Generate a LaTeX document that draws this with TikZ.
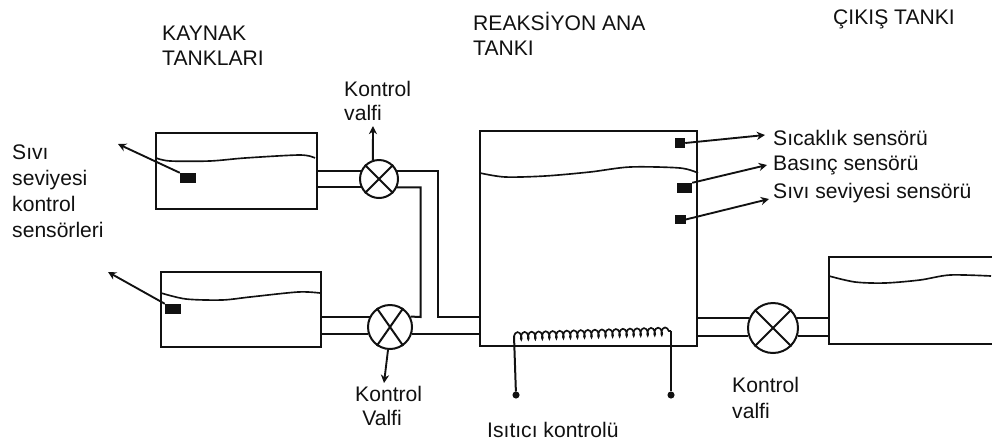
\documentclass[tikz,border=0pt]{standalone}
\usepackage{fontspec}
\setmainfont{Liberation Sans}
\usetikzlibrary{arrows.meta, decorations.pathmorphing}
\definecolor{Ink}{HTML}{111111}

\begin{document}
\begin{tikzpicture}[
            x=0.03cm,
            y=-0.03cm,
            tank/.style={
                rectangle,
                draw=Ink,
                line width=1.8pt,
                anchor=north west,
                inner sep=0pt
            },
            valve/.style={
                circle,
                draw=Ink,
                line width=1.7pt,
                inner sep=0pt
            },
            sensor/.style={
                rectangle,
                fill=Ink,
                inner sep=0pt
            },
            terminal/.style={
                circle,
                draw=Ink,
                fill=Ink,
                line width=1pt,
                minimum size=5pt,
                inner sep=0pt
            },
            pipe/.style={line width=1.7pt, color=Ink},
            level/.style={line width=1.4pt, color=Ink},
            arrow/.style={-{Stealth[length=7pt,width=7pt]}, line width=1.6pt, color=Ink},
            note/.style={
                anchor=north west,
                inner sep=0pt,
                align=left,
                text=Ink,
                font=\fontsize{18}{21.3}\selectfont
            }
        ]
            \useasboundingbox (0,0) rectangle (992,446);

            % Tanks
            \node[tank, minimum width=161*0.03cm, minimum height=76*0.03cm] (sourceA) at (155,132) {};
            \node[tank, minimum width=160*0.03cm, minimum height=75*0.03cm] (sourceB) at (160,271) {};
            \node[tank, minimum width=217*0.03cm, minimum height=215*0.03cm] (reactor) at (479,130) {};
            \node[tank, minimum width=163.5*0.03cm, minimum height=87*0.03cm] (outlet) at (828,256) {};

            % Valves
            \node[valve, minimum size=38*0.03cm] (valveA) at (379,179) {};
            \node[valve, minimum size=44*0.03cm] (valveB) at (390,327) {};
            \node[valve, minimum size=50*0.03cm] (valveC) at (773,328) {};
            \foreach \v/\a in {valveA/45, valveB/55, valveC/45} {
                \draw[pipe] (\v.\a) -- (\v.180+\a);
                \draw[pipe] (\v.180-\a) -- (\v.-\a);
            }

            % Sensors
            \node[sensor, minimum width=16*0.03cm, minimum height=10*0.03cm] (sensorA) at (188,178) {};
            \node[sensor, minimum width=16*0.03cm, minimum height=10*0.03cm] (sensorB) at (173,309) {};
            \node[sensor, minimum width=10*0.03cm, minimum height=10*0.03cm] (sensorTemp) at (680,143) {};
            \node[sensor, minimum width=15*0.03cm, minimum height=10*0.03cm] (sensorPres) at (684.5,188) {};
            \node[sensor, minimum width=11*0.03cm, minimum height=9*0.03cm] (sensorLevel) at (680,219.5) {};

            % Liquid levels
            \draw[level] plot[smooth] coordinates {(156,158) (170,161) (210,161) (245,158) (300,155) (315,158)};
            \draw[level] plot[smooth] coordinates {(161,293) (186,299) (222,300) (250,297) (298,292) (320,293)};
            \draw[level] plot[smooth] coordinates {(480,173) (505,177) (545,176) (590,172) (630,167) (680,168) (698,173)};
            \draw[level] plot[smooth] coordinates {(829,276) (855,282) (885,283) (920,280) (950,275) (991,276)};

            % Pipes
            \coordinate (jointA) at (438,317);
            \coordinate (jointB) at (420.5,317);
            \draw[pipe] (sourceA.east |- valveA.155) -- (valveA.155);
            \draw[pipe] (sourceA.east |- valveA.205) -- (valveA.205);
            \draw[pipe] (sourceB.east |- valveB.153) -- (valveB.153);
            \draw[pipe] (sourceB.east |- valveB.197) -- (valveB.197);
            \draw[pipe] (valveA.25) -| (jointA) -- (reactor.west |- jointA);
            \draw[pipe] (valveA.-25) -| (jointB) -- (valveB.27);
            \draw[pipe] (valveB.-18) -- (reactor.west |- valveB.-18);
            \draw[pipe] (reactor.east |- valveC.158) -- (valveC.158);
            \draw[pipe] (reactor.east |- valveC.199) -- (valveC.199);
            \draw[pipe] (valveC.22) -- (outlet.west |- valveC.22);
            \draw[pipe] (valveC.-19) -- (outlet.west |- valveC.-19);

            % Heater
            \node[terminal] (heatL) at (516,395) {};
            \node[terminal] (heatR) at (671,395) {};
            \coordinate (coilL) at (514,336);
            \coordinate (coilR) at (671,331);
            \draw[pipe] (heatL) -- (coilL);
            \draw[pipe] (heatR) -- (coilR);
            \draw[level, decorate, decoration={coil, aspect=0.5, segment length=6pt, amplitude=3.2pt}] (coilL) -- (coilR);

            % Labels
            \node[note] (titleSource) at (162,25.5) {KAYNAK\\TANKLARI};
            \node[note] (titleReactor) at (473,12) {REAKSİYON ANA\\TANKI};
            \node[note] (titleOutlet) at (833,9.5) {ÇIKIŞ TANKI};
            \node[note, font=\fontsize{18}{22.2}\selectfont] (labelSensors) at (12,144.5) {Sıvı\\seviyesi\\kontrol\\sensörleri};
            \node[note] (labelValveA) at (344,80.5) {Kontrol\\valfi};
            \node[note] (labelValveB) at (355,385.5) {Kontrol\\\hspace*{6pt}Valfi};
            \node[note, font=\fontsize{18}{22.2}\selectfont] (labelValveC) at (732,376.5) {Kontrol\\valfi};
            \node[note] (labelHeater) at (487,421.5) {Isıtıcı kontrolü};
            \node[note] (labelTemp) at (773,129.5) {Sıcaklık sensörü};
            \node[note] (labelPres) at (773,155.5) {Basınç sensörü};
            \node[note] (labelLevel) at (773,182.5) {Sıvı seviyesi sensörü};

            % Sensor and valve signals
            \coordinate (tipA) at (118,144);
            \coordinate (tipB) at (108,272);
            \coordinate (tipTemp) at (765,135);
            \coordinate (tipPres) at (767,165);
            \coordinate (tipLevel) at (769,199);
            \coordinate (tipValveA) at (373,126);
            \coordinate (tipValveB) at (384,383);
            \draw[arrow] (sensorA.north west) -- (tipA);
            \draw[arrow] (sensorB.north west) -- (tipB);
            \draw[arrow] (sensorTemp.east) -- (tipTemp);
            \draw[arrow] (sensorPres.north east) -- (tipPres);
            \draw[arrow] (sensorLevel.east) -- (tipLevel);
            \draw[arrow] (valveA.108) -- (tipValveA);
            \draw[arrow] (valveB.265) -- (tipValveB);
        \end{tikzpicture}
\end{document}
